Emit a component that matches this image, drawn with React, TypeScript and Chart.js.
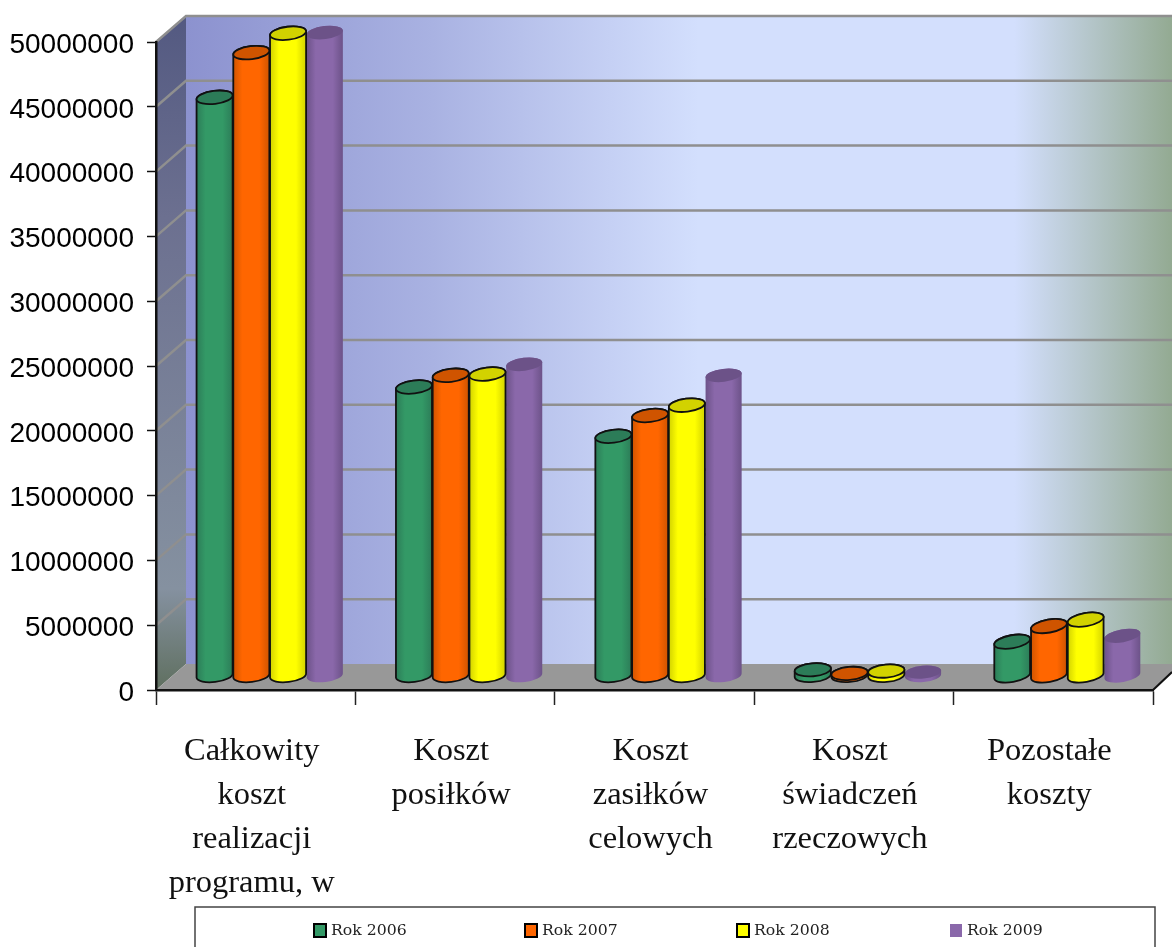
import React, { useEffect, useRef } from "react";
import { Chart, registerables } from "chart.js";

Chart.register(...registerables);

const categories = [
  ["Całkowity", "koszt", "realizacji", "programu, w"],
  ["Koszt", "posiłków"],
  ["Koszt", "zasiłków", "celowych"],
  ["Koszt", "świadczeń", "rzeczowych"],
  ["Pozostałe", "koszty"],
];
const rok2006 = [44650000, 22300000, 18500000, 480000, 2650000];
const rok2007 = [48100000, 23200000, 20100000, 200000, 3850000];
const rok2008 = [49600000, 23300000, 20900000, 380000, 4350000];
const rok2009 = [49650000, 24050000, 23200000, 300000, 3100000];
const seriesLabels = ["Rok 2006", "Rok 2007", "Rok 2008", "Rok 2009"];
const seriesColors = ["#339966", "#ff6600", "#ffff00", "#8a68aa"];
const seriesShades = ["#2c7c58", "#cf5400", "#d2d200", "#6c5288"];
const categoryTilts = [-7, -7, -7, -5, -10];

const W = 1172;
const H = 947;
const DEPTH_X = 30;
const DEPTH_Y = 26;

const scenePlugin = {
  id: "scene",
  beforeDraw(chart: any) {
    const { ctx, chartArea: a, scales } = chart;
    const backL = a.left + DEPTH_X;
    const floorBack = a.bottom - DEPTH_Y;
    const topWall = a.top - 27;
    ctx.save();
    // back wall
    const g = ctx.createLinearGradient(backL, 0, W, 0);
    g.addColorStop(0, "#8c92cf");
    g.addColorStop(0.25, "#a9b2e2");
    g.addColorStop(0.52, "#d3dffd");
    g.addColorStop(0.84, "#d3dffd");
    g.addColorStop(1, "#93aa92");
    ctx.fillStyle = g;
    ctx.fillRect(backL, topWall, W - backL, floorBack - topWall);
    // left wall
    const lg = ctx.createLinearGradient(0, topWall, 0, a.bottom);
    lg.addColorStop(0, "#535981");
    lg.addColorStop(0.3, "#6c7090");
    lg.addColorStop(0.85, "#8591a0");
    lg.addColorStop(1, "#5f6f5f");
    ctx.fillStyle = lg;
    ctx.beginPath();
    ctx.moveTo(a.left, a.top);
    ctx.lineTo(backL, topWall);
    ctx.lineTo(backL, floorBack);
    ctx.lineTo(a.left, a.bottom);
    ctx.closePath();
    ctx.fill();
    // floor
    ctx.fillStyle = "#989898";
    ctx.beginPath();
    ctx.moveTo(a.left, a.bottom);
    ctx.lineTo(backL, floorBack);
    ctx.lineTo(W, floorBack);
    ctx.lineTo(W, a.bottom - 18);
    ctx.lineTo(a.right, a.bottom);
    ctx.closePath();
    ctx.fill();
    ctx.strokeStyle = "#111";
    ctx.lineWidth = 2;
    ctx.beginPath();
    ctx.moveTo(W, a.bottom - 18);
    ctx.lineTo(a.right, a.bottom);
    ctx.stroke();
    // gridlines on the walls
    const y = scales.y;
    y.ticks.forEach((t: any) => {
      if (t.value === 0) return;
      const py = y.getPixelForValue(t.value);
      ctx.strokeStyle = "#8f8f8f";
      ctx.lineWidth = 2.5;
      ctx.beginPath();
      ctx.moveTo(a.left, py);
      ctx.lineTo(backL, py - DEPTH_Y);
      ctx.lineTo(W, py - DEPTH_Y);
      ctx.stroke();
    });
    ctx.restore();
  },
  beforeDatasetsDraw(chart: any) {
    const { ctx } = chart;
    const order = [3, 0, 1, 2];
    const count = chart.data.labels.length;
    for (let c = 0; c < count; c++) {
      const rot = (categoryTilts[c] * Math.PI) / 180;
      for (const d of order) {
        const bar = chart.getDatasetMeta(d).data[c] as any;
        const cx = bar.x + 14;
        const topY = bar.y - 14;
        const baseY = bar.base - 14;
        const rx = bar.width / 2 - 0.2;
        const ry = 6.5;
        const outline = d !== 3;
        const left = cx - rx;
        const right = cx + rx;
        const grad = ctx.createLinearGradient(left, 0, right, 0);
        grad.addColorStop(0, seriesShades[d]);
        grad.addColorStop(0.25, seriesColors[d]);
        grad.addColorStop(0.72, seriesColors[d]);
        grad.addColorStop(1, seriesShades[d]);
        ctx.save();
        ctx.beginPath();
        ctx.ellipse(cx, baseY, rx, ry, rot, Math.PI, 0, true);
        ctx.ellipse(cx, topY, rx, ry, rot, 0, Math.PI, true);
        ctx.closePath();
        ctx.fillStyle = grad;
        ctx.fill();
        ctx.lineWidth = 1.8;
        ctx.strokeStyle = "#111";
        if (outline) ctx.stroke();
        ctx.beginPath();
        ctx.ellipse(cx, topY, rx, ry, rot, 0, Math.PI * 2);
        ctx.fillStyle = seriesShades[d];
        ctx.fill();
        if (outline) ctx.stroke();
        ctx.restore();
      }
    }
    return false;
  },
  afterDraw(chart: any) {
    const { ctx } = chart;
    ctx.save();
    // legend frame, open at the bottom of the page
    ctx.strokeStyle = "#444";
    ctx.lineWidth = 1.5;
    ctx.beginPath();
    ctx.moveTo(195, H + 2);
    ctx.lineTo(195, 907);
    ctx.lineTo(1155, 907);
    ctx.lineTo(1155, H + 2);
    ctx.stroke();
    const xs = [314, 525, 737, 950];
    ctx.font = '15.7px "DejaVu Serif"';
    ctx.textBaseline = "middle";
    ctx.textAlign = "left";
    chart.data.datasets.forEach((ds: any, i: number) => {
      ctx.fillStyle = ds.backgroundColor;
      ctx.fillRect(xs[i], 924, 12, 13);
      if (i !== 3) {
        ctx.strokeStyle = "#000";
        ctx.lineWidth = 2;
        ctx.strokeRect(xs[i], 924, 12, 13);
      }
      ctx.fillStyle = "#222";
      ctx.fillText(ds.label, xs[i] + 17, 931);
    });
    ctx.restore();
  },
};

export default function App() {
  const ref = useRef<HTMLCanvasElement>(null);
  useEffect(() => {
    const values = [rok2006, rok2007, rok2008, rok2009];
    const chart = new Chart(ref.current!, {
      type: "bar",
      data: {
        labels: categories as any,
        datasets: values.map((v, i) => ({
          label: seriesLabels[i],
          data: v,
          backgroundColor: seriesColors[i],
          barPercentage: 1,
          categoryPercentage: 0.737,
        })),
      },
      plugins: [scenePlugin as any],
      options: {
        responsive: false,
        animation: false,
        devicePixelRatio: 1,
        layout: { padding: { top: 42, right: W - 1153, left: 0, bottom: 0 } },
        plugins: { legend: { display: false }, tooltip: { enabled: false } },
        scales: {
          x: {
            offset: true,
            afterFit: (s: any) => {
              s.height = H - 690;
            },
            grid: {
              offset: true,
              drawOnChartArea: false,
              drawTicks: true,
              tickLength: 15,
              tickColor: "#222",
              tickWidth: 1.5,
            },
            border: { display: true, color: "#111", width: 2.5 },
            ticks: {
              color: "#111",
              maxRotation: 0,
              minRotation: 0,
              autoSkip: false,
              padding: 24,
              labelOffset: -4,
              font: { family: '"Liberation Serif"', size: 32.5, lineHeight: 1.355 },
            },
          },
          y: {
            min: 0,
            max: 50000000,
            afterFit: (s: any) => {
              s.width = 156;
            },
            grid: {
              drawOnChartArea: false,
              drawTicks: true,
              tickLength: 9,
              tickColor: "#111",
              tickWidth: 1.5,
            },
            border: { display: true, color: "#111", width: 2.5 },
            ticks: {
              stepSize: 5000000,
              color: "#000",
              padding: 13,
              labelOffset: 3,
              font: { family: '"Liberation Sans"', size: 28 },
              callback: (v: any) => String(v),
            },
          },
        },
      },
    });
    return () => chart.destroy();
  }, []);
  return (
    <canvas
      ref={ref}
      width={W}
      height={H}
      style={{ position: "absolute", left: 0, top: 0, display: "block" }}
    />
  );
}
